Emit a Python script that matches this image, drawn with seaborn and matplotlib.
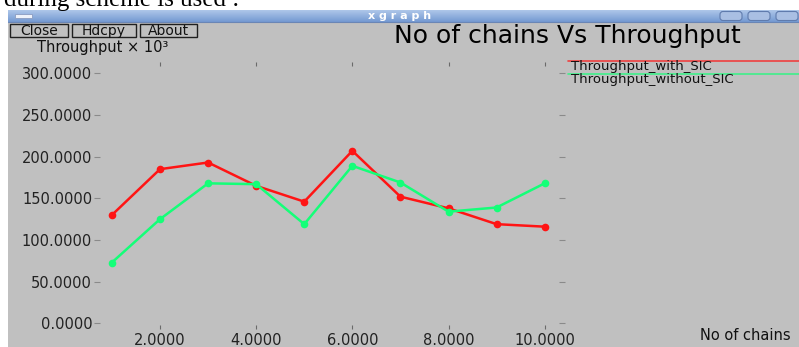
import matplotlib
matplotlib.use("Agg")
import matplotlib.pyplot as plt
from matplotlib.colors import LinearSegmentedColormap
from matplotlib.patches import Rectangle, FancyBboxPatch
import numpy as np
import pandas as pd
import seaborn as sns

# ---- data -------------------------------------------------------------
chains = [1, 2, 3, 4, 5, 6, 7, 8, 9, 10]
with_sic = [130, 185, 193, 165, 146, 207, 152, 138, 119, 116]
without_sic = [73, 125, 168, 167, 119, 189, 169, 134, 139, 168]
series_names = ["Throughput_with_SIC", "Throughput_without_SIC"]
series_colors = ["#ff1414", "#14ff78"]
x_ticks = [2, 4, 6, 8, 10]
y_ticks = [0, 50, 100, 150, 200, 250, 300]

title = "No of chains Vs Throughput"
y_label = "Throughput \u00d7 10\u00b3"
x_label = "No of chains"
buttons = ["Close", "Hdcpy", "About"]

df = pd.DataFrame({
    "chains": chains * 2,
    "throughput": with_sic + without_sic,
    "series": [series_names[0]] * len(chains) + [series_names[1]] * len(chains),
})

# ---- figure & window chrome ------------------------------------------
W, H = 799, 347
GRAY = "#c0c0c0"
sns.set_theme(style="white")
plt.rcParams["font.family"] = ["DejaVu Sans"]

fig = plt.figure(figsize=(W / 100, H / 100), dpi=100)
fig.patch.set_facecolor(GRAY)


def px_rect(x0, y0, x1, y1):
    return [x0 / W, 1 - y1 / H, (x1 - x0) / W, (y1 - y0) / H]


chrome = fig.add_axes([0, 0, 1, 1], zorder=0)
chrome.axis("off")

# white page margin around the window
chrome.add_patch(Rectangle((0, 0), W, 9.5, color="white", lw=0))
chrome.add_patch(Rectangle((0, 0), 8, H, color="white", lw=0))

# title bar gradient
bar_cmap = LinearSegmentedColormap.from_list("bar", ["#b4cbeb", "#7399d2"])
grad = np.linspace(0, 1, 64).reshape(-1, 1)
chrome.imshow(grad, cmap=bar_cmap, extent=(8, W, 22, 9.5), aspect="auto",
              interpolation="bilinear")
chrome.plot([8, W], [22, 22], color="#6a86b5", lw=0.8)
chrome.text(400, 16, "x g r a p h", color="white", fontsize=8,
            fontweight="bold", ha="center", va="center")
chrome.add_patch(Rectangle((15, 13.5), 17, 4, facecolor="#eef2fa",
                           edgecolor="#8a9cc0", lw=0.6))
for bx in (720, 748, 776):
    chrome.add_patch(FancyBboxPatch((bx, 11.5), 22, 9,
                                    boxstyle="round,pad=0,rounding_size=3",
                                    facecolor="#a9bfe3", edgecolor="#5f7bad",
                                    lw=0.8))

# page text above the window
chrome.text(4, 6, "during scheme is used :", family="Liberation Serif",
            fontsize=18, va="baseline", ha="left", color="black")

# buttons
for (x0, x1), label in zip([(10, 68), (72, 136), (140, 197)], buttons):
    chrome.add_patch(Rectangle((x0, 23.5), x1 - x0, 13.5, facecolor=GRAY,
                               edgecolor="#202020", lw=1.0))
    chrome.text((x0 + x1) / 2, 30.5, label, fontsize=10, ha="center",
                va="center", color="#111111")

chrome.text(37, 47, y_label, fontsize=10.5, ha="left", va="center",
            color="#111111")
chrome.text(567, 35.5, title, fontsize=18, ha="center", va="center",
            color="black")
chrome.text(700, 336, x_label, fontsize=10.5, ha="left", va="center",
            color="#111111")

# legend rows
for i, (name, col) in enumerate(zip(series_names, series_colors)):
    yy = 61 + 13 * i
    chrome.plot([568, W], [yy, yy], color=col, lw=1.2, alpha=0.75)
    chrome.text(571, yy + 5.5, name, fontsize=9.5, ha="left", va="center",
                color="#111111")

chrome.set_xlim(0, W)
chrome.set_ylim(H, 0)

# ---- plot area ---------------------------------------------------------
ax = fig.add_axes(px_rect(97, 62, 562, 329), zorder=1)
ax.set_facecolor("none")
sns.lineplot(data=df, x="chains", y="throughput", hue="series",
             palette=dict(zip(series_names, series_colors)),
             marker="o", markersize=5.5, markeredgewidth=0, linewidth=1.8,
             ax=ax, legend=False)

ax.set_xlim(0.69, 10.36)
ax.set_ylim(-6.8, 313.6)
ax.set_xticks(x_ticks)
ax.set_xticklabels([f"{v:.4f}" for v in x_ticks])
ax.set_yticks(y_ticks)
ax.set_yticklabels([f"{v:.4f}" for v in y_ticks])
ax.set_xlabel("")
ax.set_ylabel("")
for s in ax.spines.values():
    s.set_visible(False)

ax.tick_params(axis="y", which="both", left=True, right=True, direction="out",
               length=5, width=0.8, color="#8a8a8a", labelsize=10.5,
               labelcolor="#222222", pad=1)
ax.tick_params(axis="x", which="both", bottom=True, top=True, direction="in",
               length=3, width=0.8, color="#6a6a6a", labelsize=10.5,
               labelcolor="#222222", pad=3)
zero = ax.yaxis.get_major_ticks()[0]
zero.tick1line.set_color("white")
zero.tick2line.set_color("white")
ax.tick_params(axis="y", which="both", right=True, direction="inout")

fig.savefig("out.png", dpi=100, facecolor=fig.get_facecolor())
